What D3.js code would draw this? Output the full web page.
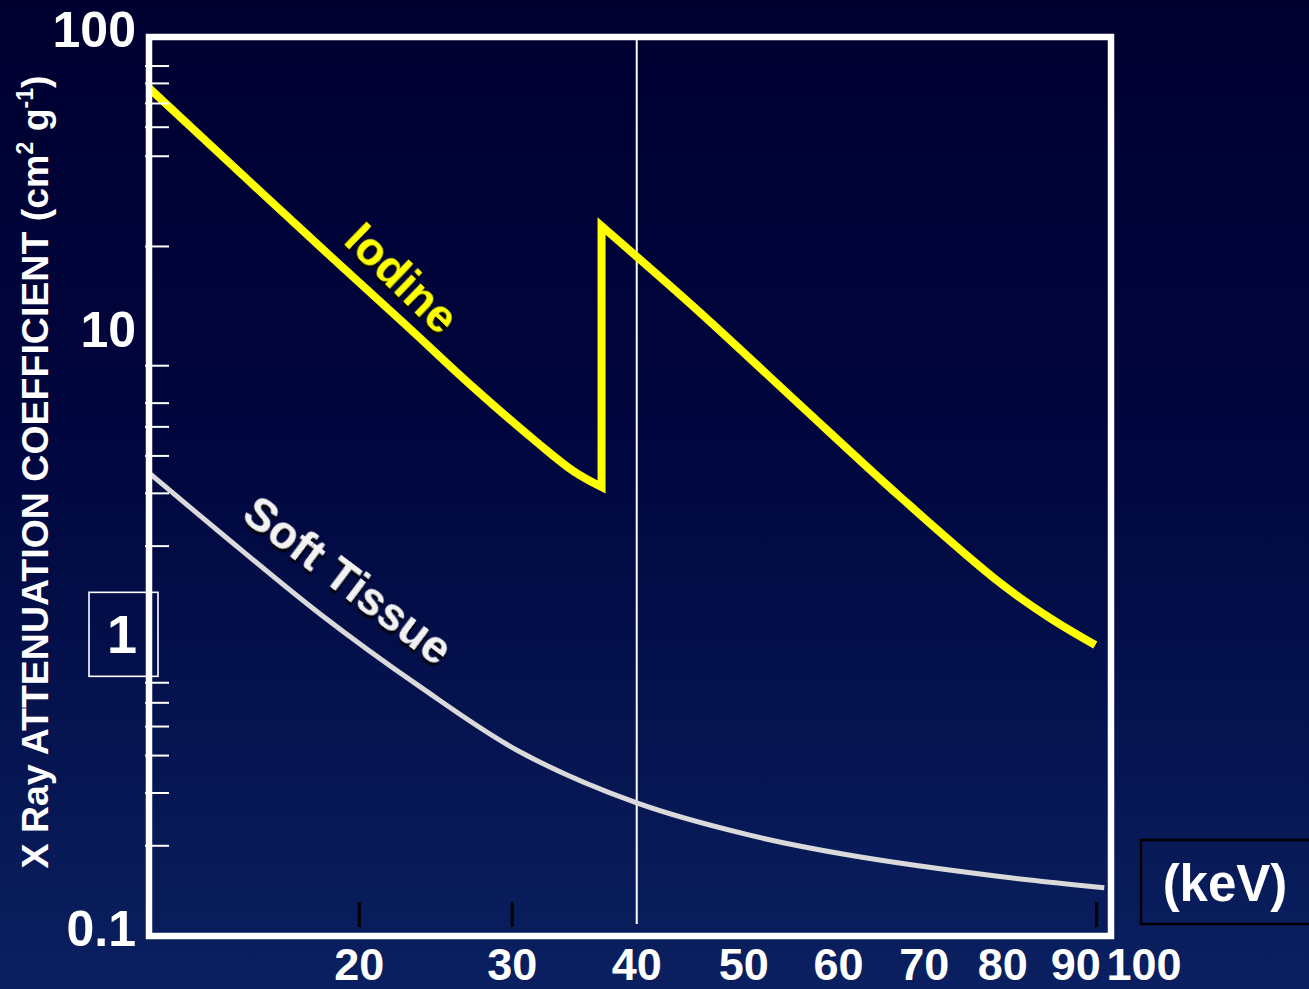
<!DOCTYPE html>
<html>
<head>
<meta charset="utf-8">
<script src="https://cdn.jsdelivr.net/npm/d3@7"></script>
<style>
  html, body { margin: 0; padding: 0; background: #000030; }
  svg { display: block; }
  text { font-family: "Liberation Sans", Arial, Helvetica, sans-serif; font-weight: bold; }
</style>
</head>
<body>
<svg id="chart" width="1309" height="989"></svg>
<script>
// Mass attenuation coefficient (cm² g⁻¹) versus photon energy (keV)

// Iodine, below the K edge
const iodineLowKeV = [10, 13.8, 18.2, 22.9, 27.2, 32.1, 34.7, 37.0];
const iodineLowMu  = [67.6, 35.4, 19.0, 10.8, 6.79, 4.35, 3.56, 3.15];
// Iodine, above the K edge
const iodineHighKeV = [37.0, 45.8, 55.8, 67.1, 79.6, 86.4, 92.8];
const iodineHighMu  = [23.4, 12.0, 5.92, 2.92, 1.51, 1.15, 0.935];

// Soft tissue
const softKeV = [10, 12.9, 17.8, 23.7, 30.6, 40.0, 50.6, 61.3, 79.6, 94.1];
const softMu  = [3.51, 2.23, 1.19, 0.678, 0.411, 0.278, 0.217, 0.186, 0.158, 0.145];

// Axis ticks and labels
const xLabelValues = [20, 30, 40, 50, 60, 70, 80, 90, 100];
const xTickValues = [20, 30, 93];
const markerKeV = 40;
const yLabelValues = [100, 10, 1, 0.1];
const yMinorValues = [80, 70, 60, 50, 40, 20, 8, 6, 5, 4, 3, 2, 0.7, 0.6, 0.5, 0.4, 0.3, 0.2];

const W = 1309, H = 989;
const plot = { left: 149, top: 37, right: 1111, bottom: 936 };

const svg = d3.select("#chart");
const defs = svg.append("defs");

const grad = defs.append("linearGradient")
  .attr("id", "bg").attr("x1", 0).attr("y1", 0).attr("x2", 0).attr("y2", 1);
grad.append("stop").attr("offset", "0%").attr("stop-color", "#000030");
grad.append("stop").attr("offset", "45%").attr("stop-color", "#00063e");
grad.append("stop").attr("offset", "100%").attr("stop-color", "#0a2060");

const shadow = defs.append("filter").attr("id", "shadow")
  .attr("x", "-20%").attr("y", "-20%").attr("width", "140%").attr("height", "140%");
shadow.append("feDropShadow")
  .attr("dx", 2).attr("dy", 3).attr("stdDeviation", 1)
  .attr("flood-color", "#000000").attr("flood-opacity", 0.9);

svg.append("rect").attr("width", W).attr("height", H).attr("fill", "url(#bg)");

// Scales
const x = d3.scalePow().exponent(0.4).domain([10, 100]).range([plot.left, 1144]);
const y = d3.scaleLog().domain([0.1, 100]).range([plot.bottom, plot.top]);

// Vertical marker at 40 keV
svg.append("line")
  .attr("x1", x(markerKeV)).attr("x2", x(markerKeV))
  .attr("y1", plot.top).attr("y2", 924)
  .attr("stroke", "#ffffff").attr("stroke-width", 2);

// Curves
const line = d3.line()
  .x(d => x(d[0]))
  .y(d => y(d[1]))
  .curve(d3.curveCatmullRom.alpha(0.5));

const softData = softKeV.map((k, i) => [k, softMu[i]]);
svg.append("path")
  .attr("d", line(softData))
  .attr("fill", "none")
  .attr("stroke", "#dadada")
  .attr("stroke-width", 5);

const iodineLow = iodineLowKeV.map((k, i) => [k, iodineLowMu[i]]);
const iodineHigh = iodineHighKeV.map((k, i) => [k, iodineHighMu[i]]);
svg.append("path")
  .attr("d", line(iodineLow) + line(iodineHigh).replace(/^M/, "L"))
  .attr("fill", "none")
  .attr("stroke", "#ffff00")
  .attr("stroke-width", 8)
  .attr("stroke-linejoin", "miter")
  .attr("stroke-miterlimit", 4);

// Frame
svg.append("rect")
  .attr("x", plot.left).attr("y", plot.top)
  .attr("width", plot.right - plot.left)
  .attr("height", plot.bottom - plot.top)
  .attr("fill", "none")
  .attr("stroke", "#ffffff")
  .attr("stroke-width", 6.5);

// Y minor ticks
svg.append("g").selectAll("line")
  .data(yMinorValues)
  .join("line")
  .attr("x1", plot.left - 4).attr("x2", plot.left + 20)
  .attr("y1", d => y(d)).attr("y2", d => y(d))
  .attr("stroke", "#ffffff").attr("stroke-width", 2);

// Y labels
const yLab = svg.append("g");
yLab.selectAll("text")
  .data(yLabelValues.filter(d => d !== 1))
  .join("text")
  .attr("x", 136)
  .attr("y", d => y(d))
  .attr("dy", "0.2em")
  .attr("text-anchor", "end")
  .attr("fill", "#ffffff")
  .attr("font-size", 50)
  .text(d => String(d));

const oneBox = yLab.append("g").datum(1);
oneBox.append("rect")
  .attr("x", 89).attr("y", d => y(d) - 44)
  .attr("width", 69).attr("height", 84)
  .attr("fill", "none").attr("stroke", "#ffffff").attr("stroke-width", 1.6);
oneBox.append("text")
  .attr("x", 122).attr("y", d => y(d))
  .attr("dy", "0.3em")
  .attr("text-anchor", "middle")
  .attr("fill", "#ffffff")
  .attr("font-size", 54)
  .text(d => String(d));

// X tick marks (dark) and labels
svg.append("g").selectAll("line")
  .data(xTickValues)
  .join("line")
  .attr("x1", d => x(d)).attr("x2", d => x(d))
  .attr("y1", 902).attr("y2", 927)
  .attr("stroke", "#000000").attr("stroke-width", 3);

svg.append("g").selectAll("text")
  .data(xLabelValues)
  .join("text")
  .attr("x", d => x(d))
  .attr("y", 980)
  .attr("text-anchor", "middle")
  .attr("fill", "#ffffff")
  .attr("font-size", 45)
  .text(d => String(d));

// Unit box
svg.append("rect")
  .attr("x", 1141).attr("y", 840)
  .attr("width", 200).attr("height", 84)
  .attr("fill", "none").attr("stroke", "#000000").attr("stroke-width", 2.5);
svg.append("text")
  .attr("x", 1225).attr("y", 901)
  .attr("text-anchor", "middle")
  .attr("fill", "#ffffff")
  .attr("font-size", 51)
  .text("(keV)");

// Y axis title
const title = svg.append("text")
  .attr("transform", "translate(48,472) rotate(-90)")
  .attr("text-anchor", "middle")
  .attr("fill", "#ffffff")
  .attr("font-size", 37.5);
title.append("tspan").text("X Ray ATTENUATION COEFFICIENT (cm");
title.append("tspan").attr("font-size", 23).attr("dy", -15).text("2");
title.append("tspan").attr("dy", 15).text(" g");
title.append("tspan").attr("font-size", 23).attr("dy", -15).text("-1");
title.append("tspan").attr("dy", 15).text(")");

// Curve labels
svg.append("text")
  .attr("transform", "translate(402,278) rotate(44)")
  .attr("text-anchor", "middle")
  .attr("dy", "0.35em")
  .attr("fill", "#ffff00")
  .attr("font-size", 46)
  .attr("filter", "url(#shadow)")
  .text("Iodine");

svg.append("text")
  .attr("transform", "translate(348,580) rotate(37)")
  .attr("text-anchor", "middle")
  .attr("dy", "0.35em")
  .attr("fill", "#f2f2f2")
  .attr("font-size", 46)
  .attr("filter", "url(#shadow)")
  .text("Soft Tissue");
</script>
</body>
</html>
